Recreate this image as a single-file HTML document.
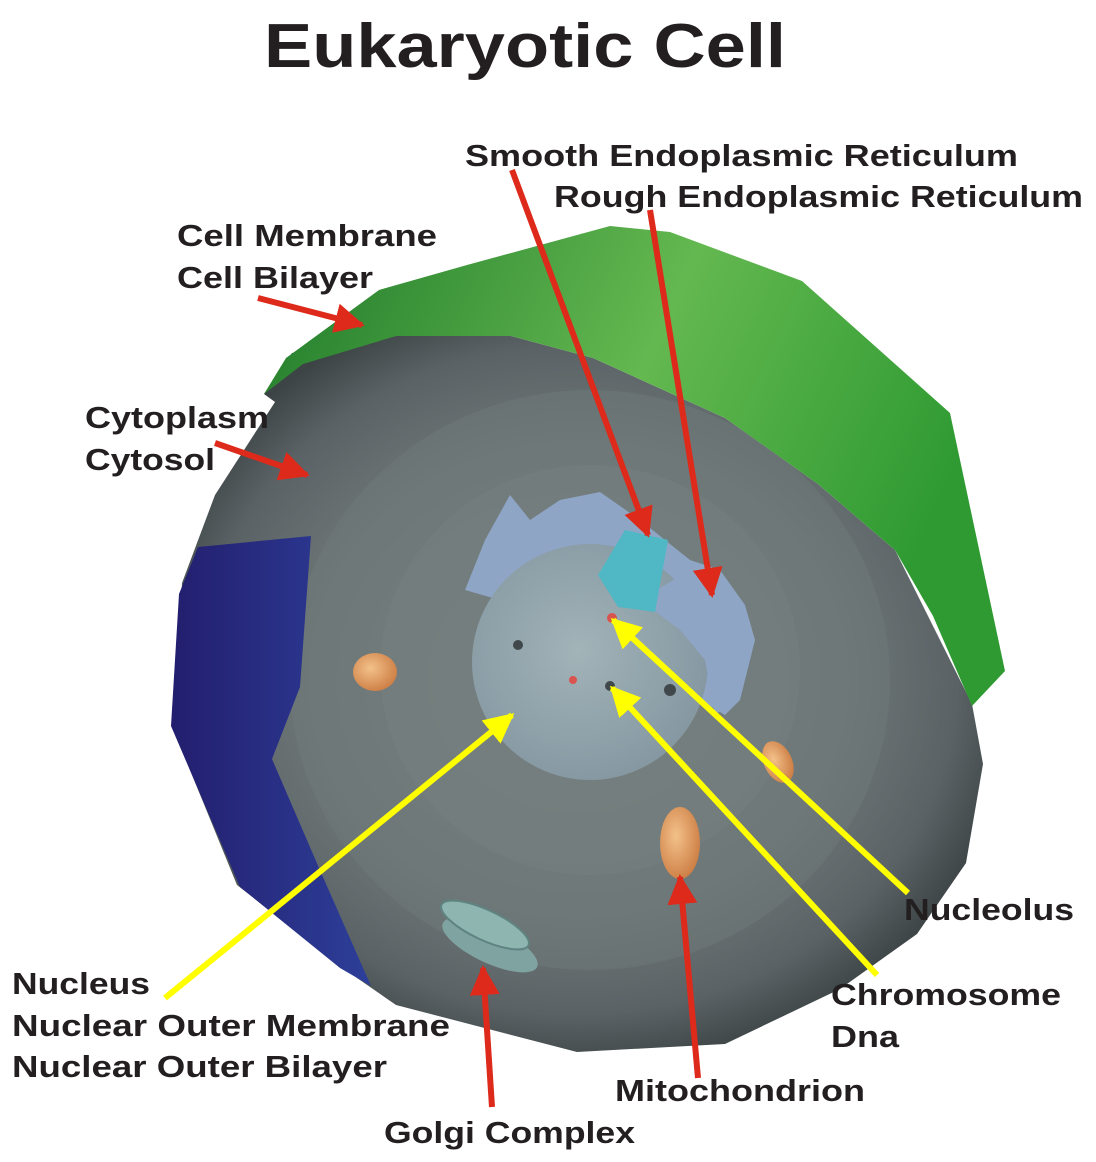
<!DOCTYPE html>
<html><head><meta charset="utf-8"><style>
html,body{margin:0;padding:0;background:#fff;}
svg{display:block}
text{font-family:"Liberation Sans",Arial,sans-serif;font-weight:bold;fill:#231f20;}
</style></head><body>
<svg width="1096" height="1162" viewBox="0 0 1096 1162" xmlns="http://www.w3.org/2000/svg">
<defs>
<radialGradient id="cell" cx="0.5" cy="0.48" r="0.55">
<stop offset="0" stop-color="#7c8785"/>
<stop offset="0.6" stop-color="#6d7677"/>
<stop offset="0.85" stop-color="#5a6265"/>
<stop offset="1" stop-color="#3d4446"/>
</radialGradient>
<linearGradient id="green" x1="0" y1="0" x2="1" y2="0.3">
<stop offset="0" stop-color="#1f7a2a"/>
<stop offset="0.55" stop-color="#64b850"/>
<stop offset="1" stop-color="#2f9a32"/>
</linearGradient>
<linearGradient id="blue" x1="0" y1="0" x2="1" y2="0">
<stop offset="0" stop-color="#231e6e"/>
<stop offset="1" stop-color="#2d3f99"/>
</linearGradient>
<radialGradient id="nuc" cx="0.45" cy="0.45" r="0.6">
<stop offset="0" stop-color="#a2b4b8"/>
<stop offset="1" stop-color="#8496a0"/>
</radialGradient>
<radialGradient id="mito" cx="0.4" cy="0.4" r="0.7">
<stop offset="0" stop-color="#f3c18a"/>
<stop offset="1" stop-color="#c9783e"/>
</radialGradient>
<marker id="rh" viewBox="0 0 10 10" refX="9" refY="5" markerWidth="5" markerHeight="5" orient="auto" markerUnits="strokeWidth"><path d="M0,0 L10,5 L0,10 z" fill="#dd2a1b"/></marker>
<marker id="yh" viewBox="0 0 10 10" refX="9" refY="5" markerWidth="5" markerHeight="5" orient="auto" markerUnits="strokeWidth"><path d="M0,0 L10,5 L0,10 z" fill="#ffff00"/></marker>
</defs>

<text x="525" y="67" font-size="62" text-anchor="middle" textLength="522" lengthAdjust="spacingAndGlyphs">Eukaryotic Cell</text>

<!-- cell body -->
<polygon fill="url(#cell)" points="264,394 292,353 396,336 511,336 593,358 725,418 818,484 895,550 972,704 983,764 966,863 917,934 840,989 725,1044 577,1052 396,1005 357,978 237,885 174,731 182,583 215,495 275,402"/>
<!-- concentric lighter bands -->
<ellipse cx="590" cy="680" rx="300" ry="290" fill="#6f797a" opacity="0.5"/>
<ellipse cx="590" cy="670" rx="210" ry="205" fill="#76807f" opacity="0.5"/>
<!-- green membrane -->
<polygon fill="url(#green)" points="264,394 286,358 379,290 467,265 610,226 670,232 802,281 950,413 1005,671 972,706 933,616 895,550 818,484 725,418 593,358 511,336 396,336 303,364"/>
<!-- blue -->
<polygon fill="url(#blue)" points="198,547 311,536 300,687 272,759 319,868 371,986 340,968 240,887 171,726 179,594"/>
<!-- nucleus ER -->
<path d="M465,590 L485,540 L510,495 L530,520 L560,500 L600,492 L640,520 L690,560 L720,570 L745,605 L755,640 L740,700 L725,715 L700,700 L690,660 L640,610 L560,590 L500,600 Z" fill="#8ea5c6"/>
<circle cx="590" cy="662" r="118" fill="url(#nuc)"/>
<path d="M640,600 L690,570 L735,605 L745,650 L735,700 L715,715 L705,660 L680,630 Z" fill="#8ea5c6"/>
<polygon points="598,575 625,530 668,540 655,612 618,607" fill="#4fb8c4"/>
<circle cx="612" cy="618" r="5" fill="#d9534f"/>
<circle cx="573" cy="680" r="4" fill="#d9534f"/>
<circle cx="518" cy="645" r="5" fill="#40484c"/>
<circle cx="610" cy="686" r="5" fill="#40484c"/>
<circle cx="670" cy="690" r="6" fill="#40484c"/>
<!-- mitochondria -->
<ellipse cx="375" cy="672" rx="22" ry="19" fill="url(#mito)"/>
<ellipse cx="680" cy="843" rx="20" ry="36" fill="url(#mito)"/>
<ellipse cx="778" cy="762" rx="14" ry="22" fill="url(#mito)" transform="rotate(-25 778 762)"/>
<!-- golgi -->
<ellipse cx="490" cy="945" rx="52" ry="18" fill="#7fa3a0" transform="rotate(25 490 945)"/>
<ellipse cx="485" cy="925" rx="48" ry="15" fill="#8fb5b0" stroke="#5f8380" stroke-width="2" transform="rotate(25 485 925)"/>

<!-- arrows red -->
<g stroke="#dd2a1b" stroke-width="6" fill="none">
<line x1="512" y1="170" x2="648" y2="535" marker-end="url(#rh)"/>
<line x1="650" y1="210" x2="712" y2="595" marker-end="url(#rh)"/>
<line x1="258" y1="298" x2="362" y2="325" marker-end="url(#rh)"/>
<line x1="215" y1="443" x2="307" y2="475" marker-end="url(#rh)"/>
<line x1="492" y1="1107" x2="483" y2="968" marker-end="url(#rh)"/>
<line x1="698" y1="1078" x2="680" y2="877" marker-end="url(#rh)"/>
</g>
<g stroke="#ffff00" stroke-width="6" fill="none">
<line x1="165" y1="998" x2="512" y2="715" marker-end="url(#yh)"/>
<line x1="908" y1="893" x2="613" y2="620" marker-end="url(#yh)"/>
<line x1="877" y1="975" x2="612" y2="688" marker-end="url(#yh)"/>
</g>

<g font-size="31">
<text x="465" y="166" textLength="553" lengthAdjust="spacingAndGlyphs">Smooth Endoplasmic Reticulum</text>
<text x="554" y="207" textLength="529" lengthAdjust="spacingAndGlyphs">Rough Endoplasmic Reticulum</text>
<text x="177" y="246" textLength="260" lengthAdjust="spacingAndGlyphs">Cell Membrane</text>
<text x="177" y="288" textLength="196" lengthAdjust="spacingAndGlyphs">Cell Bilayer</text>
<text x="85" y="428" textLength="184" lengthAdjust="spacingAndGlyphs">Cytoplasm</text>
<text x="85" y="470" textLength="130" lengthAdjust="spacingAndGlyphs">Cytosol</text>
<text x="904" y="920" textLength="170" lengthAdjust="spacingAndGlyphs">Nucleolus</text>
<text x="831" y="1005" textLength="230" lengthAdjust="spacingAndGlyphs">Chromosome</text>
<text x="831" y="1047" textLength="68" lengthAdjust="spacingAndGlyphs">Dna</text>
<text x="12" y="994" textLength="138" lengthAdjust="spacingAndGlyphs">Nucleus</text>
<text x="12" y="1036" textLength="438" lengthAdjust="spacingAndGlyphs">Nuclear Outer Membrane</text>
<text x="12" y="1077" textLength="375" lengthAdjust="spacingAndGlyphs">Nuclear Outer Bilayer</text>
<text x="615" y="1101" textLength="250" lengthAdjust="spacingAndGlyphs">Mitochondrion</text>
<text x="384" y="1143" textLength="251" lengthAdjust="spacingAndGlyphs">Golgi Complex</text>
</g>
</svg>
</body></html>
